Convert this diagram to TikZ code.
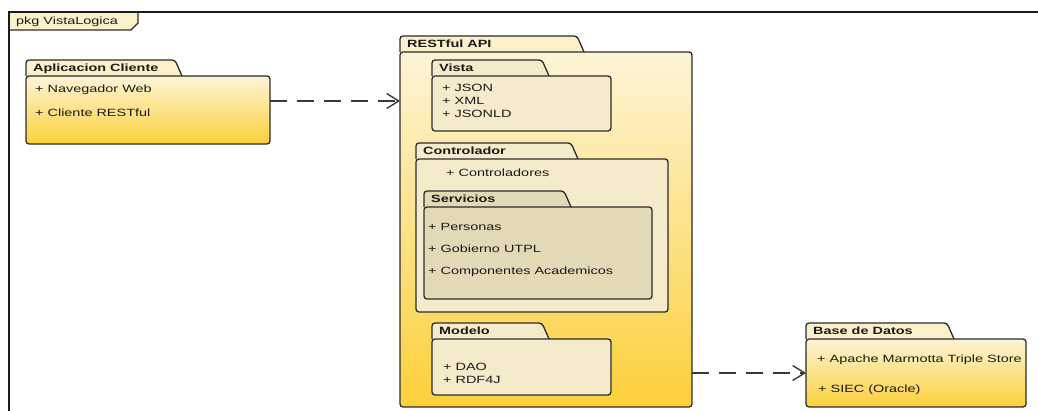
\documentclass[tikz,border=0pt]{standalone}
\usepackage{fontspec}
\setmainfont[FakeStretch=1.375]{Liberation Sans}
\usetikzlibrary{arrows.meta,calc}

\definecolor{ink}{HTML}{1A1A1A}
\definecolor{edge}{HTML}{2B2B2B}
\definecolor{creamtop}{HTML}{FDF4D6}
\definecolor{gold}{HTML}{FCD03A}
\definecolor{tabcream}{HTML}{FCF0CB}
\definecolor{paleinner}{HTML}{F5EBCB}
\definecolor{taninner}{HTML}{E4D9B7}
\definecolor{dashgray}{HTML}{3A3A3A}

% UML package: #1 name, #2 left x, #3 body top y, #4 width, #5 height,
% #6 tab width, #7 body style, #8 tab fill, #9 title
\newcommand\umlpkg[9]{%
  \draw[tabline, fill=#8] (#2,#3) -- (#2,#3-16) -- (#2+#6,#3-16) -- (#2+#6+7,#3);
  \node[#7, minimum width=#4pt, minimum height=#5pt] (#1) at (#2,#3) {};
  \node[pkgtitle] (#1-title) at (#2+7,#3-4.2) {#9};
}

\begin{document}
\begin{tikzpicture}[x=1pt,y=-1pt,
  pkgbody/.style={draw=edge, line width=1.3pt, rounded corners=3pt,
    anchor=north west, inner sep=0pt, outer sep=0pt},
  yellowbody/.style={pkgbody, top color=creamtop, bottom color=gold},
  palebody/.style={pkgbody, fill=paleinner},
  tanbody/.style={pkgbody, fill=taninner},
  tabline/.style={draw=edge, line width=1.3pt, rounded corners=3pt},
  pkgtitle/.style={font=\bfseries\fontsize{10.5}{12}\selectfont, text=ink,
    anchor=base west, inner sep=0pt},
  member/.style={font=\fontsize{10.5}{12}\selectfont, text=ink,
    anchor=base west, inner sep=0pt},
  dep/.style={draw=dashgray, line width=1.4pt, dash pattern=on 17pt off 10pt,
    -{Straight Barb[length=12pt,width=15pt,line width=1.4pt]}}]

\useasboundingbox (0,0) rectangle (1038,411);

% enclosing package frame
\draw[line width=1.3pt, draw=edge, fill=tabcream]
  (9,12) -- (138,12) -- (138,23) -- (131,30) -- (9,30) -- cycle;
\draw[line width=2pt, draw=ink] (9,411) -- (9,12) -- (1038,12);
\node[member] (frame-title) at (16,25) {pkg VistaLogica};

% client application
\umlpkg{app}{26}{76}{244}{68}{149}{yellowbody}{tabcream}{Aplicacion Cliente}
\node[member] (app-1) at (35,93) {+ Navegador Web};
\node[member] (app-2) at (35,117) {+ Cliente RESTful};

% RESTful API and its layers
\umlpkg{api}{400}{52}{292}{355}{177}{yellowbody}{tabcream}{RESTful API}

\umlpkg{vista}{432}{76}{179}{55}{110}{palebody}{paleinner}{Vista}
\node[member] (vista-1) at (442,92) {+ JSON};
\node[member] (vista-2) at (442,105) {+ XML};
\node[member] (vista-3) at (442,118) {+ JSONLD};

\umlpkg{ctrl}{416}{159}{252}{153}{155}{palebody}{paleinner}{Controlador}
\node[member] (ctrl-1) at (446,177) {+ Controladores};

\umlpkg{serv}{424}{207}{228}{92}{140}{tanbody}{taninner}{Servicios}
\node[member] (serv-1) at (428,231) {+ Personas};
\node[member] (serv-2) at (428,253) {+ Gobierno UTPL};
\node[member] (serv-3) at (428,275) {+ Componentes Academicos};

\umlpkg{modelo}{432}{339}{179}{56}{110}{palebody}{paleinner}{Modelo}
\node[member] (modelo-1) at (443,370) {+ DAO};
\node[member] (modelo-2) at (443,383) {+ RDF4J};

% database
\umlpkg{db}{806}{339}{220}{68}{141}{yellowbody}{tabcream}{Base de Datos}
\node[member] (db-1) at (817,362) {+ Apache Marmotta Triple Store};
\node[member] (db-2) at (818,392) {+ SIEC (Oracle)};

% dependencies
\draw[dep] (app.east |- 0,101) -- (api.west |- 0,101);
\draw[dep] (api.east |- 0,373) -- (db.west |- 0,373);
\end{tikzpicture}
\end{document}
